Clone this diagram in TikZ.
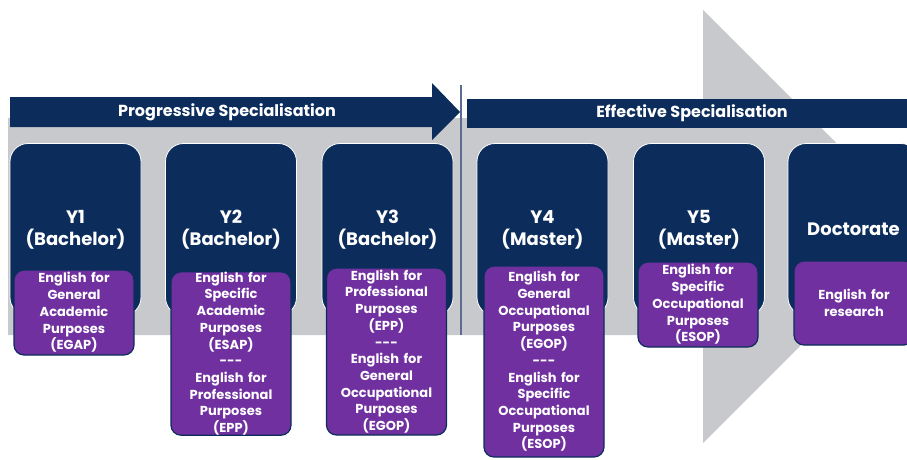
\documentclass[tikz,border=0pt]{standalone}
\usepackage{fontspec}
\setmainfont{Poppins}
\usepackage{tikz}
\usetikzlibrary{positioning}
\definecolor{navy}{RGB}{12,45,92}
\definecolor{purp}{RGB}{112,48,160}
\definecolor{bandgrey}{RGB}{200,201,205}
\definecolor{sepline}{RGB}{92,107,145}

\begin{document}
\begin{tikzpicture}[x=1pt,y=-1pt,
  yearbox/.style={draw=white,line width=0.8pt,fill=navy,rounded corners=18pt,
    minimum width=131pt,minimum height=172pt,inner sep=0pt,text=white,align=center,
    font=\fontsize{18}{22}\selectfont\bfseries},
  purpbox/.style={draw=navy,line width=1.2pt,fill=purp,rounded corners=10pt,
    text width=120pt,inner sep=0pt,text=white,align=center,
    font=\fontsize{13}{16.7}\selectfont\bfseries},
  bandtext/.style={text=white,font=\fontsize{16}{18}\selectfont\bfseries}]
\clip (0,0) rectangle (907,460);

\fill [bandgrey] (8,118)--(703,118)--(703,10)--(920,226.5)--(703,443)--(703,335)--(8,335)--cycle;

\fill [navy] (10,97)--(432,97)--(432,83)--(460,112)--(432,140)--(432,127)--(10,127)--cycle;
\node[bandtext] (prog) at (227,112) {Progressive Specialisation};
\fill [navy] (467,99) rectangle (907,128);
\node[bandtext] (eff) at (692,113) {Effective Specialisation};
\draw [sepline,line width=1.6pt] (461,85)--(461,335);

\node[yearbox] (y1) at (75.5,229.5) {Y1\\(Bachelor)};
\node[yearbox] (y2) at (231,229.5) {Y2\\(Bachelor)};
\node[yearbox] (y3) at (387.5,229.5) {Y3\\(Bachelor)};
\node[yearbox] (y4) at (542.5,229.5) {Y4\\(Master)};
\node[yearbox] (y5) at (699,229.5) {Y5\\(Master)};
\node[yearbox] (doc) at (853.5,229.5) {Doctorate};

\node[purpbox,minimum height=85pt] (p1) at (74,312.5) {English for\\General\\Academic\\Purposes\\(EGAP)};
\node[purpbox,minimum height=163pt] (p2) at (231,353.5) {English for\\Specific\\Academic\\Purposes\\(ESAP)\\-{}-{}-\\English for\\Professional\\Purposes\\(EPP)};
\node[purpbox,minimum height=167pt] (p3) at (386.5,351.5) {English for\\Professional\\Purposes\\(EPP)\\-{}-{}-\\English for\\General\\Occupational\\Purposes\\(EGOP)};
\node[purpbox,minimum height=191pt] (p4) at (544,361.5) {English for\\General\\Occupational\\Purposes\\(EGOP)\\-{}-{}-\\English for\\Specific\\Occupational\\Purposes\\(ESOP)};
\node[purpbox,minimum height=85pt] (p5) at (698,304.5) {English for\\Specific\\Occupational\\Purposes\\(ESOP)};
\node[purpbox,minimum height=84pt] (p6) at (854,303) {English for\\research};
\end{tikzpicture}
\end{document}
